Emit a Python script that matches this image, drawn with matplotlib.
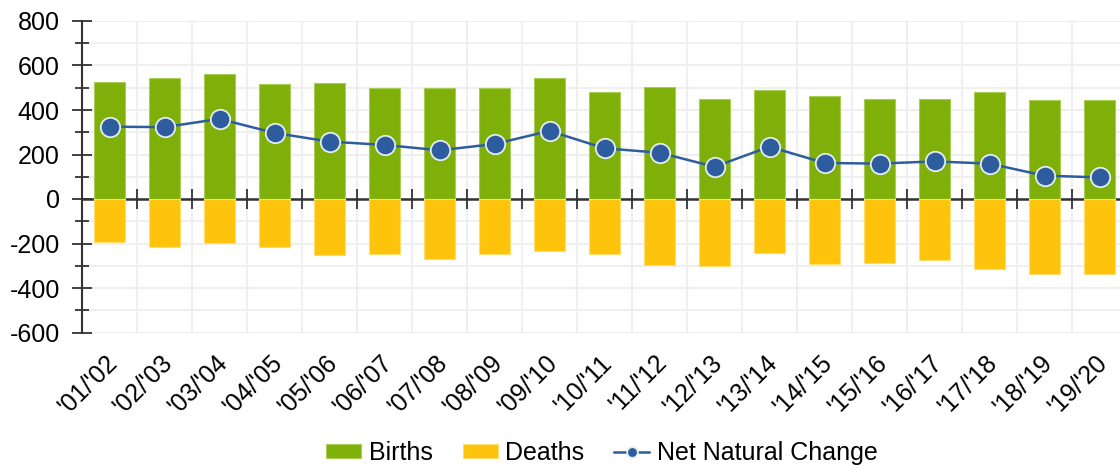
import numpy as np
import matplotlib
matplotlib.use('Agg')
import matplotlib.pyplot as plt
from matplotlib.transforms import ScaledTranslation

years = ["'01/'02", "'02/'03", "'03/'04", "'04/'05", "'05/'06", "'06/'07", "'07/'08",
         "'08/'09", "'09/'10", "'10/'11", "'11/'12", "'12/'13", "'13/'14", "'14/'15",
         "'15/'16", "'16/'17", "'17/'18", "'18/'19", "'19/'20"]
births = [524, 542, 562, 515, 520, 497, 497, 500, 542, 481, 505, 449, 490, 461, 449, 449, 481, 446, 443]
deaths = [-195, -214, -199, -214, -253, -249, -271, -249, -234, -249, -295, -300, -244, -291, -286, -276, -315, -339, -339]
net = [325, 323, 360, 297, 258, 243, 219, 247, 306, 228, 208, 145, 235, 162, 159, 169, 159, 105, 97]

plt.rcParams['font.family'] = ['Liberation Sans', 'DejaVu Sans']
plt.rcParams['axes.unicode_minus'] = False
fs = 18

fig = plt.figure(figsize=(11.2, 4.7), dpi=100)
ax = fig.add_axes([82 / 1120, 137.5 / 470, 1045 / 1120, 311.5 / 470])

x = np.arange(len(years))
b1 = ax.bar(x, births, width=0.58, color='#7FB00A', edgecolor='#A9CC55', linewidth=0.8, label='Births', zorder=2)
b2 = ax.bar(x, deaths, width=0.58, color='#FEC30B', edgecolor='#FFDD70', linewidth=0.8, label='Deaths', zorder=2)
ln, = ax.plot(x, net, color='#2E5D9F', lw=1.8, marker='o', ms=14, mfc='#2E5D9F', mec='#E6ECF3',
              mew=1.3, label='Net Natural Change', zorder=4)

ax.set_xlim(-0.5, len(years) - 0.5)
ax.set_ylim(-600, 800)
ax.set_yticks(range(-600, 801, 200))
ax.set_yticks(range(-500, 800, 200), minor=True)
ax.tick_params(axis='y', which='major', direction='inout', length=14, width=1.3,
               color='#333333', labelsize=fs, pad=9)
ax.tick_params(axis='y', which='minor', direction='inout', length=10, width=1.3, color='#333333')

# grid: horizontal every 100, vertical at category boundaries
for yv in range(-600, 801, 100):
    ax.axhline(yv, color='#EFEFEF', lw=1.5, zorder=0)
for xv in np.arange(0.5, len(years) - 0.5, 1):
    ax.axvline(xv, color='#EFEFEF', lw=1.5, zorder=0)

ax.set_xticks(x)
ax.set_xticklabels(years, rotation=45, ha='right', va='center', rotation_mode='anchor', fontsize=fs)
ax.tick_params(axis='x', length=0, pad=19)
for lab in ax.get_xticklabels():
    lab.set_transform(lab.get_transform() + ScaledTranslation(0.04, 0, fig.dpi_scale_trans))

for s in ['top', 'right', 'bottom']:
    ax.spines[s].set_visible(False)
ax.spines['left'].set_color('#333333')
ax.spines['left'].set_linewidth(1.5)

# zero line with boundary ticks
zx = ax.secondary_xaxis(600 / 1400)
zx.set_xticks(np.arange(0.5, len(years) - 0.5, 1))
zx.set_xticklabels([])
zx.tick_params(direction='inout', length=14, width=1.3, color='#333333')
zx.spines['bottom'].set_color('#333333')
zx.spines['bottom'].set_linewidth(1.8)
zx.spines['bottom'].set_zorder(5)

fig.legend([b1, b2, ln], ['Births', 'Deaths', 'Net Natural Change'], loc='center',
           bbox_to_anchor=(0.5375, 0.036), ncol=3, frameon=False, fontsize=fs, markerscale=0.55,
           handlelength=1.4, handleheight=0.5, handletextpad=0.3, columnspacing=1.2)

fig.savefig('out.png', dpi=100)
